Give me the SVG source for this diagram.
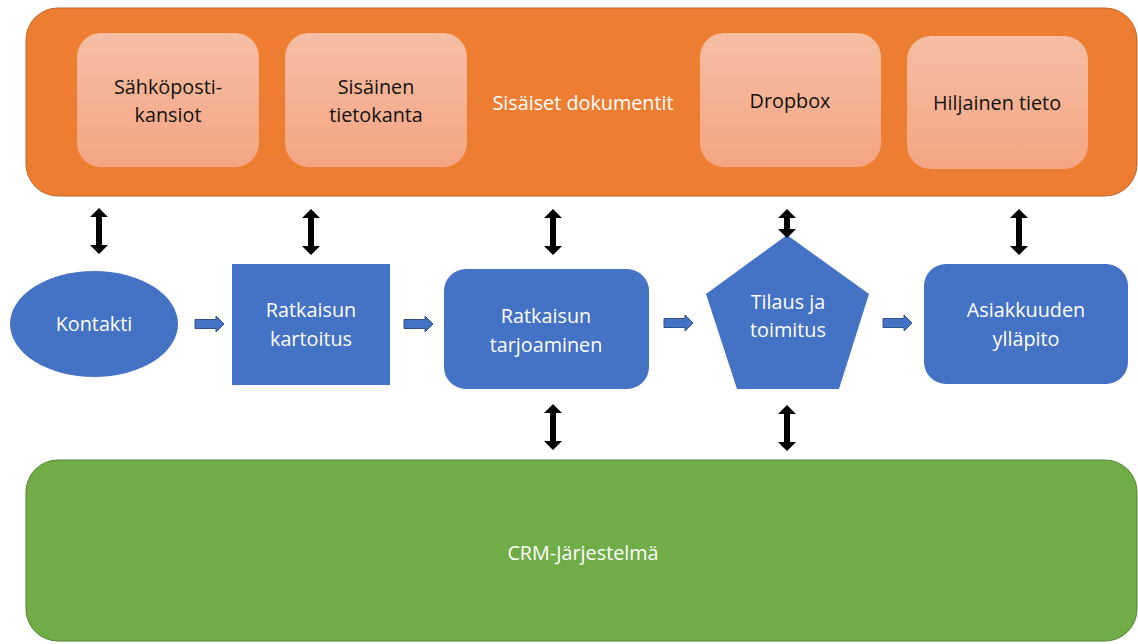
<svg xmlns="http://www.w3.org/2000/svg" width="1138" height="644" viewBox="0 0 1138 644">
  <defs>
    <linearGradient id="soft" x1="0" y1="0" x2="0" y2="1">
      <stop offset="0" stop-color="#f6bea4"/>
      <stop offset="1" stop-color="#f4a583"/>
    </linearGradient>
    <!-- vertical double-headed arrow, 0 at top -->
    <symbol id="dbl" overflow="visible">
      <polygon points="0,0 9,9 3,9 3,37 9,37 0,46 -9,37 -3,37 -3,9 -9,9"/>
    </symbol>
    <!-- small right-pointing block arrow -->
    <symbol id="step" overflow="visible">
      <polygon points="0,-4.5 21,-4.5 21,-8 29,0 21,8 21,4.5 0,4.5"/>
    </symbol>
  </defs>
  <style>
    text { font-family: "Open Sans", "Liberation Sans", sans-serif; font-size: 19.8px; text-anchor: middle; }
    .light { fill: #ffffff; }
    .dark { fill: #111111; }
    .proc { fill: #4472c4; }
    .inner { fill: url(#soft); }
    .dbl { fill: #000000; }
    .step { fill: #4472c4; stroke: #2f528f; stroke-width: 1; }
  </style>

  <!-- internal documents band -->
  <g id="sisaiset-dokumentit">
    <rect x="26" y="8" width="1111" height="188" rx="32" fill="#ed7d31" stroke="#c0642a" stroke-width="1"/>
    <text class="light" x="583" y="110">Sisäiset dokumentit</text>
  </g>
  <g id="sahkoposti">
    <rect class="inner" x="77" y="33" width="182" height="134" rx="24"/>
    <text class="dark" x="168" y="94">Sähköposti-</text>
    <text class="dark" x="168" y="122">kansiot</text>
  </g>
  <g id="tietokanta">
    <rect class="inner" x="285" y="33" width="182" height="134" rx="24"/>
    <text class="dark" x="376" y="94">Sisäinen</text>
    <text class="dark" x="376" y="122">tietokanta</text>
  </g>
  <g id="dropbox">
    <rect class="inner" x="700" y="33" width="181" height="134" rx="24"/>
    <text class="dark" x="790" y="108">Dropbox</text>
  </g>
  <g id="hiljainen">
    <rect class="inner" x="907" y="36" width="181" height="133" rx="24"/>
    <text class="dark" x="997" y="110">Hiljainen tieto</text>
  </g>

  <!-- process chain -->
  <g id="kontakti">
    <ellipse class="proc" cx="94" cy="324" rx="84" ry="53"/>
    <text class="light" x="94" y="331">Kontakti</text>
  </g>
  <g id="kartoitus">
    <rect class="proc" x="232" y="264" width="158" height="121"/>
    <text class="light" x="311" y="317">Ratkaisun</text>
    <text class="light" x="311" y="346">kartoitus</text>
  </g>
  <g id="tarjoaminen">
    <rect class="proc" x="444" y="269" width="205" height="120" rx="22"/>
    <text class="light" x="546" y="323">Ratkaisun</text>
    <text class="light" x="546" y="352">tarjoaminen</text>
  </g>
  <g id="tilaus">
    <polygon class="proc" points="787,235 869,294 839,389 737,389 706,294"/>
    <text class="light" x="788" y="309">Tilaus ja</text>
    <text class="light" x="788" y="337">toimitus</text>
  </g>
  <g id="asiakkuus">
    <rect class="proc" x="924" y="264" width="204" height="120" rx="22"/>
    <text class="light" x="1026" y="317">Asiakkuuden</text>
    <text class="light" x="1026" y="346">ylläpito</text>
  </g>

  <!-- CRM band -->
  <g id="crm">
    <rect x="26" y="460" width="1111" height="181" rx="32" fill="#70ad47" stroke="#548235" stroke-width="1"/>
    <text class="light" x="583" y="560">CRM-Järjestelmä</text>
  </g>

  <!-- connectors -->
  <g id="connectors">
    <use href="#step" class="step" x="195" y="324"/>
    <use href="#step" class="step" x="404" y="324"/>
    <use href="#step" class="step" x="664" y="323"/>
    <use href="#step" class="step" x="883" y="323"/>

    <use href="#dbl" class="dbl" x="99" y="208"/>
    <use href="#dbl" class="dbl" x="311" y="209"/>
    <use href="#dbl" class="dbl" x="553" y="209"/>
    <polygon class="dbl" points="787,209 796,218 790,218 790,229 796,229 787,238 778,229 784,229 784,218 778,218"/>
    <use href="#dbl" class="dbl" x="1019" y="209"/>

    <use href="#dbl" class="dbl" x="553" y="404"/>
    <use href="#dbl" class="dbl" x="787" y="405"/>
  </g>
</svg>
